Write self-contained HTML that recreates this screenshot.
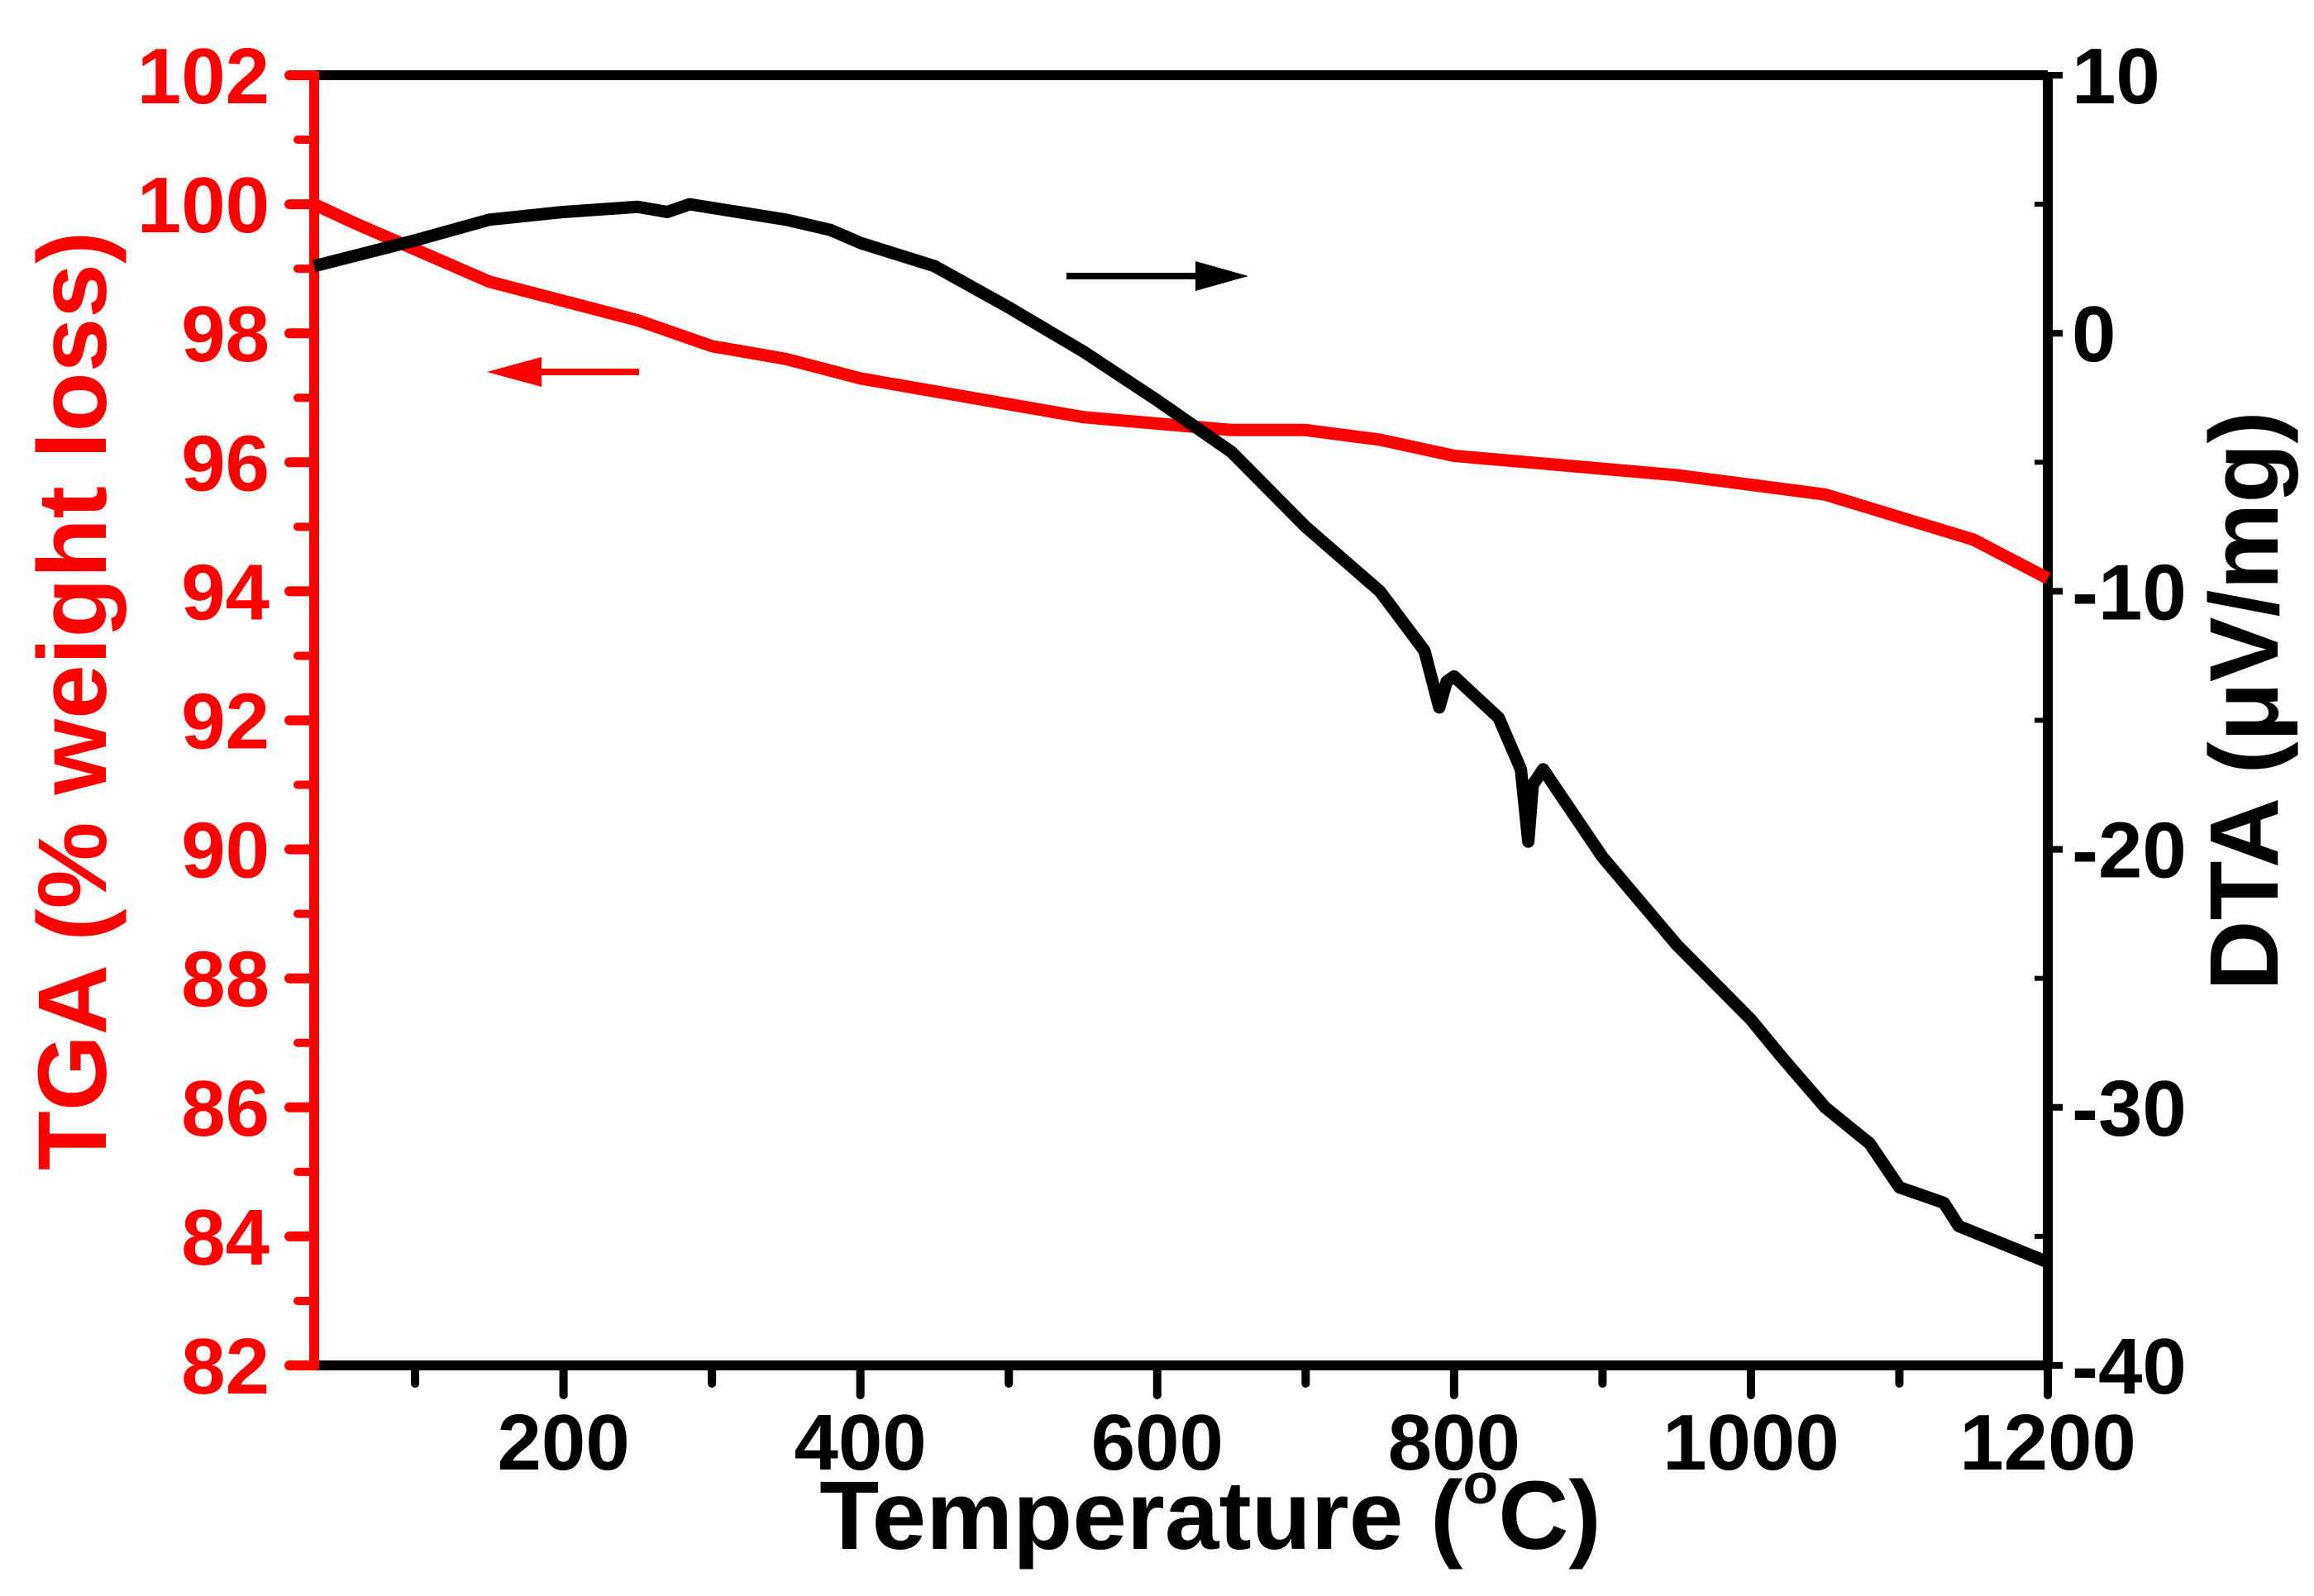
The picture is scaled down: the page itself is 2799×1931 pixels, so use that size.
<!DOCTYPE html>
<html><head><meta charset="utf-8"><style>
html,body{margin:0;padding:0;background:#fff}
svg{display:block;font-family:"Liberation Sans",Arial,sans-serif;font-weight:bold}
</style></head><body>
<svg id="chart" width="2799" height="1931" viewBox="0 0 2799 1931" xmlns="http://www.w3.org/2000/svg">
<rect width="2799" height="1931" fill="#fff"/>
<g id="g"></g>
</svg>
<script>
const xTicks=[200,400,600,800,1000,1200];
const leftTicks=[82,84,86,88,90,92,94,96,98,100,102];
const rightTicks=[-40,-30,-20,-10,0,10];
const tgaX=[32,60,100,150,200,250,300,350,400,450,500,550,600,650,700,750,800,850,900,950,1000,1050,1100,1150,1200];
const tgaY=[100,99.7,99.3,98.8,98.5,98.2,97.8,97.6,97.3,97.1,96.9,96.7,96.6,96.5,96.5,96.35,96.1,96,95.9,95.8,95.65,95.5,95.15,94.8,94.2];
const dtaX=[32,100,150,200,250,270,285,350,380,400,450,500,550,600,650,700,750,780,790,795,800,830,845,850,853,860,900,950,1000,1020,1050,1080,1100,1130,1140,1200];
const dtaY=[2.6,3.6,4.4,4.7,4.9,4.7,5.0,4.4,4.0,3.5,2.6,1.0,-0.7,-2.6,-4.6,-7.5,-10,-12.3,-14.5,-13.5,-13.3,-14.9,-16.9,-19.7,-17.5,-16.9,-20.3,-23.7,-26.6,-28,-30,-31.4,-33.1,-33.7,-34.6,-36];
const L=380,R=2477,T=91,B=1652,XMIN=32,XMAX=1200;
const sx=v=>L+(v-XMIN)/(XMAX-XMIN)*(R-L);
const syL=v=>B-(v-82)/20*(B-T);
const syR=v=>B-(v+40)/50*(B-T);
const g=document.getElementById('g');
const NS='http://www.w3.org/2000/svg';
function mk(tag,attrs,name){const e=document.createElementNS(NS,tag);for(const k in attrs)e.setAttribute(k,attrs[k]);


g.appendChild(e);return e;}
function txt(s,attrs,name){const e=mk('text',attrs,name);e.textContent=s;return e;}
mk('line',{x1:L,y1:T,x2:R,y2:T,stroke:'#000','stroke-width':12},'top-axis');
mk('line',{x1:R,y1:T,x2:R,y2:B,stroke:'#000','stroke-width':12},'right-axis');
mk('line',{x1:L,y1:B,x2:R,y2:B,stroke:'#000','stroke-width':12},'x-axis');
for(let v=100;v<=1200;v+=100){if(v<XMIN)continue;const maj=v%200===0;
mk('line',{x1:sx(v),y1:B,x2:sx(v),y2:B+(maj?36:22),stroke:'#000','stroke-width':10,'stroke-linecap':'round'},'x-tick');}
xTicks.forEach(v=>txt(String(v),{x:sx(v),y:1778,'font-size':96,'text-anchor':'middle',fill:'#000'},'x-tick-label'));
for(let v=-35;v<10;v+=5){const maj=v%10===0;
mk('line',{x1:R,y1:syR(v),x2:R-(maj?0:16),y2:syR(v),stroke:'#000','stroke-width':6},'right-minor-tick');}
rightTicks.forEach(v=>{mk('line',{x1:R,y1:syR(v),x2:R+18,y2:syR(v),stroke:'#000','stroke-width':8},'right-tick');
txt(String(v),{x:2506,y:syR(v)+34,'font-size':96,fill:'#000'},'right-tick-label');});
mk('line',{x1:L,y1:T-5,x2:L,y2:B+5,stroke:'#f00','stroke-width':12},'left-axis');
for(let v=83;v<102;v+=2){mk('line',{x1:L,y1:syL(v),x2:L-20,y2:syL(v),stroke:'#f00','stroke-width':10,'stroke-linecap':'round'},'left-minor-tick');}
leftTicks.forEach(v=>{mk('line',{x1:L,y1:syL(v),x2:L-30,y2:syL(v),stroke:'#f00','stroke-width':12,'stroke-linecap':'round'},'left-tick');
txt(String(v),{x:326,y:syL(v)+34,'font-size':96,'text-anchor':'end',fill:'#f00'},'left-tick-label');});
mk('polyline',{points:tgaX.map((x,i)=>sx(x)+','+syL(tgaY[i])).join(' '),fill:'none',stroke:'#f00','stroke-width':15,'stroke-linejoin':'round'},'tga-line');
mk('polyline',{points:dtaX.map((x,i)=>sx(x)+','+syR(dtaY[i])).join(' '),fill:'none',stroke:'#000','stroke-width':15,'stroke-linejoin':'round'},'dta-line');
mk('line',{x1:1290,y1:334,x2:1460,y2:334,stroke:'#000','stroke-width':8},'dta-arrow-shaft');
mk('polygon',{points:'1510,334 1446,316 1446,352',fill:'#000'},'dta-arrow-head');
mk('line',{x1:773,y1:450,x2:630,y2:450,stroke:'#f00','stroke-width':8},'tga-arrow-shaft');
mk('polygon',{points:'589,450 655,432 655,468',fill:'#f00'},'tga-arrow-head');
const xt=txt('',{x:1464,y:1874,'font-size':118,'text-anchor':'middle',fill:'#000'},'x-axis-title');
xt.innerHTML='Temperature (<tspan font-size="70" dy="-55">o</tspan><tspan dy="55">C)</tspan>';
txt('TGA (% weight loss)',{x:0,y:0,'font-size':118,'text-anchor':'middle',fill:'#f00',transform:'translate(128,848) rotate(-90)'},'left-axis-title');
txt('DTA (\u03bcV/mg)',{x:0,y:0,'font-size':118,'text-anchor':'middle',fill:'#000',transform:'translate(2755,848) rotate(-90)'},'right-axis-title');
</script>
</body></html>
